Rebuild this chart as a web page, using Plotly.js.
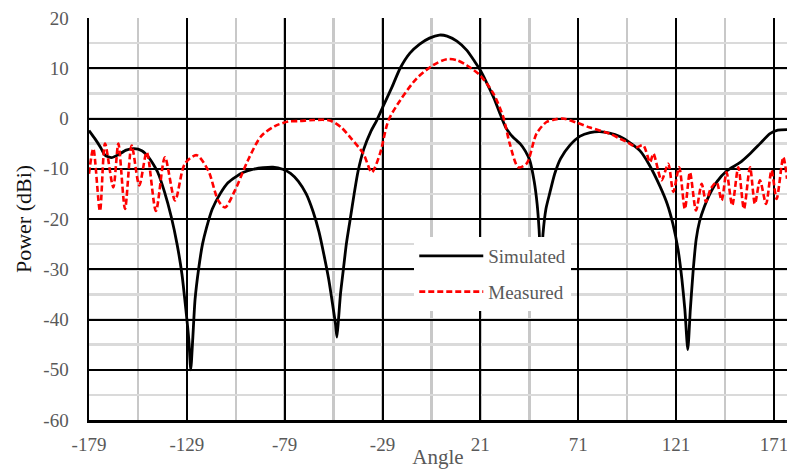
<!DOCTYPE html>
<html>
<head>
<meta charset="utf-8">
<script src="https://cdn.plot.ly/plotly-3.0.1.min.js"></script>
<style>html,body{margin:0;padding:0;background:#fff;}#chart{width:787px;height:469px;}</style>
</head>
<body>
<div id="chart"></div>
<script>
// Simulated pattern (angle in degrees, power in dBi)
var simAngle = [-179,-176,-173,-170.8,-167.5,-164,-160,-156,-152,-149,-146,-144,-140.5,-137,-134,-131.5,-129.5,-128,-127,-126,-124.8,-123,-121,-119,-116,-112,-108,-104,-100,-95,-90,-85,-80,-76,-72,-68,-64.5,-61.5,-59,-56.5,-54.5,-53,-52.3,-51.5,-50.5,-49,-47.5,-45.5,-43.5,-41.5,-38.5,-35,-32,-28,-24,-20,-15,-10,-5,0,4,9,14,18,21,24,28,31,34,36.5,39,41.5,44,46.3,48.5,50,51,52,53,54.5,56.5,59,62,66.8,72,77,82,87,92.3,97,102.5,107,112.8,116.5,119.4,122,124,125.5,127,128.3,129.8,131.3,133,135.5,138.3,142,147,153.6,158.8,163.9,169,173,177.7];
var simPower = [-2.4,-4,-5.8,-7.3,-7.8,-7.2,-6.3,-6.0,-6.4,-7.5,-9.2,-10.6,-14.5,-19.5,-25,-31,-38,-44,-50,-44,-36,-30,-25,-21.8,-18,-15,-12.8,-11.6,-10.7,-10.1,-9.8,-9.7,-10.1,-10.9,-12.5,-15,-18.5,-22.5,-27,-32,-37,-41,-43.5,-40,-35,-30,-25,-20,-15,-10.5,-6,-2.6,-0.4,3,6.4,10,13,14.8,16,16.6,16.4,15.4,13.6,11.4,9.6,7.3,4,1,-1.8,-3.2,-4.2,-5.1,-6.5,-8.4,-12.5,-17,-22,-30,-23,-18,-14.8,-11,-8,-5.3,-3.5,-2.8,-2.6,-2.9,-3.6,-4.7,-6.4,-9,-13.5,-17,-21,-26,-32,-38,-46,-38,-30,-24,-20.5,-17.5,-15,-12.5,-10.4,-8.8,-7,-5,-3,-2.3,-2.2];

// Measured pattern
var measAngle = [-179,-176.8,-173.4,-170.8,-166.6,-164,-160.6,-157.2,-153.3,-149.5,-144.8,-140.2,-135,-130,-124,-118,-113,-109.5,-104.4,-98,-91,-84,-77,-71.2,-64,-55.9,-50,-45.6,-38.8,-34.5,-30.3,-26,-20,-11.5,-3.2,3.8,9,14,20.8,27.6,32.7,36,40.4,44.6,49.7,54.8,59,63,70,77,87,92.3,96,100.8,104.2,107.7,109.4,113.6,117,119.6,122.6,125.5,128.1,131.2,134.1,136.3,138.7,141.7,144.3,146.8,149.7,152.8,155.7,158.8,161.3,163.9,167,169.8,172.4,175.8,177.7];
var measPower = [-11,-6,-18.4,-5,-13.7,-5,-18,-5.4,-13.3,-6.7,-18.4,-7.7,-16.3,-9,-7.3,-10.4,-16.3,-17.7,-14.3,-8.5,-3.5,-1.5,-0.6,-0.5,-0.3,-0.4,-1.8,-3.7,-7,-10.7,-7,-0.4,3.6,8,10.6,11.8,11.6,10.6,8.6,5,0.3,-5,-9.7,-9,-3,-0.7,-0.2,0,-0.8,-1.8,-3,-4,-4.7,-5.7,-5.3,-8.7,-7,-12.3,-9,-14.6,-9.7,-18,-10.7,-18.3,-13,-16.6,-14,-12.7,-16.3,-10.7,-17.3,-9.7,-18,-9.7,-17,-12.3,-17,-10.3,-16,-7.7,-12];

var xTickVals = [-179,-129,-79,-29,21,71,121,171];
var yTickVals = [-60,-50,-40,-30,-20,-10,0,10,20];

var serif = 'Liberation Serif, Times New Roman, serif';
var traces = [
  {x: simAngle, y: simPower, type: 'scatter', mode: 'lines', name: 'Simulated', legendgroup: 'a',
   line: {color: '#000000', width: 2.8, shape: 'spline', smoothing: 0.6}},
  {x: measAngle, y: measPower, type: 'scatter', mode: 'lines', name: 'Measured', legendgroup: 'b',
   line: {color: '#ff0000', width: 2.6, dash: '6px,3px', shape: 'spline', smoothing: 0.8}}
];

var layout = {
  width: 787, height: 469,
  margin: {l: 89, r: 0, t: 18, b: 49},
  paper_bgcolor: '#ffffff', plot_bgcolor: '#ffffff',
  showlegend: true,
  legend: {x: 0.466, y: 0.455, xanchor: 'left', yanchor: 'top', bgcolor: '#ffffff', borderwidth: 0,
    font: {family: serif, size: 19, color: '#595959'}, itemwidth: 64, tracegroupgap: 8, traceorder: 'grouped'},
  xaxis: {
    range: [-179, 177.7], tickmode: 'array', tickvals: xTickVals, ticktext: xTickVals.map(String),
    showgrid: true, gridcolor: '#000000', gridwidth: 2,
    minor: {dtick: 25, tick0: -154, showgrid: true, gridcolor: '#c8c8c8', gridwidth: 2.5},
    showline: true, linecolor: '#000000', linewidth: 2.5, zeroline: false, ticks: '',
    ticklabelstandoff: 6, ticklabeloverflow: 'allow',
    tickfont: {family: serif, size: 19, color: '#595959'},
    title: {text: 'Angle', font: {family: serif, size: 21, color: '#595959'}, standoff: 0}
  },
  yaxis: {
    range: [-60, 20], tickmode: 'array', tickvals: yTickVals, ticktext: yTickVals.map(String),
    showgrid: true, gridcolor: '#000000', gridwidth: 2,
    minor: {dtick: 5, showgrid: true, gridcolor: '#dadada', gridwidth: 2.5},
    showline: true, linecolor: '#000000', linewidth: 2.5, zeroline: false, ticks: '',
    ticklabelstandoff: 14,
    tickfont: {family: serif, size: 19, color: '#595959'},
    title: {text: 'Power (dBi)', font: {family: serif, size: 22, color: '#111111'}, standoff: 6}
  }
};

Plotly.newPlot('chart', traces, layout, {displayModeBar: false, staticPlot: true});
</script>
</body>
</html>
